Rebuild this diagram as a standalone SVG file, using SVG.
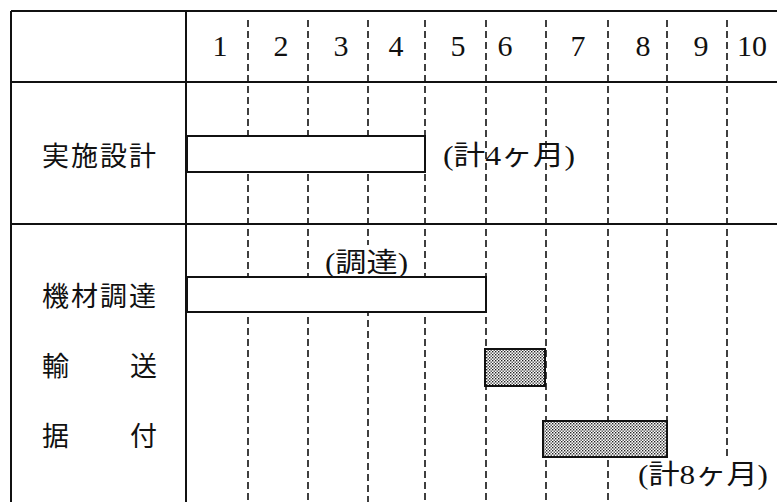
<svg xmlns="http://www.w3.org/2000/svg" width="777" height="502" viewBox="0 0 777 502">
<defs>
<pattern id="dots" width="3" height="3" patternUnits="userSpaceOnUse">
<rect width="3" height="3" fill="#ffffff"/>
<rect x="0" y="0" width="1.4" height="1.4" fill="#222"/>
<rect x="1.5" y="1.5" width="1.4" height="1.4" fill="#444"/>
</pattern>
</defs>
<style>
.frame{stroke:#111;stroke-width:2;fill:none}
.dash{stroke:#111;stroke-width:1.6;stroke-dasharray:7 4;fill:none}
.bar{fill:#fff;stroke:#111;stroke-width:2}
.hbar{fill:url(#dots);stroke:#111;stroke-width:2}
.num{font-family:"Liberation Serif","DejaVu Serif",serif;font-size:30px;fill:#111;text-anchor:middle}
.lbl{font-family:"Liberation Serif","Noto Sans CJK JP",serif;font-size:27px;fill:#111}
</style>
<rect width="777" height="502" fill="#fff"/>
<g id="grid">
<line class="frame" x1="11" y1="11" x2="777" y2="11"/>
<line class="frame" x1="11" y1="11" x2="11" y2="502"/>
<line class="frame" x1="186" y1="11" x2="186" y2="502"/>
<line class="frame" x1="11" y1="82" x2="777" y2="82"/>
<line class="frame" x1="11" y1="224" x2="777" y2="224"/>
</g>
<g id="connectors">
<line class="dash" x1="248" y1="20" x2="248" y2="502"/>
<line class="dash" x1="308" y1="20" x2="308" y2="502"/>
<line class="dash" x1="368" y1="20" x2="368" y2="245"/>
<line class="dash" x1="368" y1="276" x2="368" y2="502"/>
<line class="dash" x1="425" y1="20" x2="425" y2="502"/>
<line class="dash" x1="486" y1="20" x2="486" y2="502"/>
<line class="dash" x1="546" y1="20" x2="546" y2="502"/>
<line class="dash" x1="608" y1="20" x2="608" y2="502"/>
<line class="dash" x1="667" y1="20" x2="667" y2="430"/>
<line class="dash" x1="727" y1="20" x2="727" y2="458"/>
</g>
<g id="header">
<text class="num" x="220" y="56">1</text>
<text class="num" x="281" y="56">2</text>
<text class="num" x="341" y="56">3</text>
<text class="num" x="396" y="56">4</text>
<text class="num" x="458" y="56">5</text>
<text class="num" x="505" y="56">6</text>
<text class="num" x="578" y="56">7</text>
<text class="num" x="643" y="56">8</text>
<text class="num" x="701" y="56">9</text>
<text class="num" x="752" y="56">10</text>
</g>
<g id="design">
<text class="lbl" x="42" y="166" letter-spacing="2">実施設計</text>
<rect class="bar" x="187" y="136" width="238" height="36"/>
<text class="lbl" x="443" y="165" textLength="132" lengthAdjust="spacingAndGlyphs">(計4ヶ月)</text>
</g>
<g id="procurement">
<text class="lbl" x="42" y="306" letter-spacing="2">機材調達</text>
<text class="lbl" x="325" y="272" textLength="83" lengthAdjust="spacingAndGlyphs">(調達)</text>
<rect class="bar" x="187" y="277" width="299" height="35"/>
</g>
<g id="transport">
<text class="lbl" x="42" y="376">輸</text>
<text class="lbl" x="130" y="376">送</text>
<rect class="hbar" x="485" y="349" width="60" height="37"/>
</g>
<g id="install">
<text class="lbl" x="42" y="446">据</text>
<text class="lbl" x="130" y="446">付</text>
<rect class="hbar" x="543" y="421" width="124" height="36"/>
<text class="lbl" x="638" y="484" textLength="130" lengthAdjust="spacingAndGlyphs">(計8ヶ月)</text>
</g>
</svg>
